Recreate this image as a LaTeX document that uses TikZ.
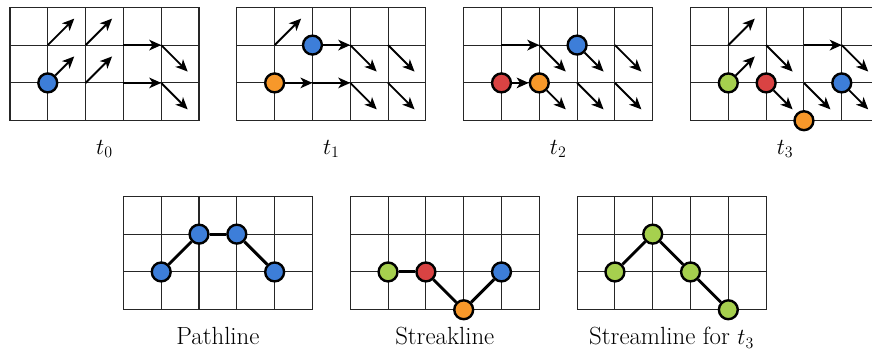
\documentclass[tikz,border=0pt]{standalone}
\usetikzlibrary{arrows.meta}
\definecolor{cblue}{HTML}{3D7ED9}
\definecolor{corange}{HTML}{F7982A}
\definecolor{cred}{HTML}{D94343}
\definecolor{cgreen}{HTML}{A6D04E}
\begin{document}
\begin{tikzpicture}[x=1cm,y=1cm,
  gridline/.style={line width=0.8pt, draw=black!85},
  vec/.style={line width=1.4pt, -{Stealth[length=9pt,width=8pt,inset=2.5pt]}},
  link/.style={line width=2.2pt},
  particle/.style={circle, draw=black, line width=1.8pt, minimum size=0.5cm, inner sep=0pt},
  pblue/.style={particle, fill=cblue},
  porange/.style={particle, fill=corange},
  pred/.style={particle, fill=cred},
  pgreen/.style={particle, fill=cgreen},
  lbl/.style={font=\fontsize{18.7}{22}\selectfont, anchor=base, inner sep=0pt}
]
\useasboundingbox (-0.264,-6.172) rectangle (22.80,3.193);
\clip (-0.264,-6.172) rectangle (22.80,3.193);

% grids, with named vertices P<i><j> for every panel P
\foreach \p/\dx/\dy in {A/0/0, B/6/0, C/12/0, D/18/0, E/3/-5, F/9/-5, G/15/-5} {
  \begin{scope}[shift={(\dx,\dy)}]
    \draw[gridline] (0,0) grid (5,3);
    \foreach \i in {0,...,5} {
      \foreach \j in {0,...,3} {
        \coordinate (\p\i\j) at (\i,\j);
      }
    }
  \end{scope}
}

% ---- t0 ----
\node[pblue] (a-blue) at (A11) {};
\draw[vec] (A12) -- ++(0.7,0.7);
\draw[vec] (A22) -- ++(0.7,0.7);
\draw[vec] (a-blue) -- (1.7,1.7);
\draw[vec] (A21) -- ++(0.7,0.7);
\draw[vec] (A32) -- (A42);
\draw[vec] (A42) -- ++(0.7,-0.7);
\draw[vec] (A31) -- (A41);
\draw[vec] (A41) -- ++(0.7,-0.7);
\node[lbl] (lab-a) at (2.5,-0.89) {$t_0$};

% ---- t1 ----
\node[pblue] (b-blue) at (B22) {};
\node[porange] (b-orange) at (B11) {};
\draw[vec] (B12) -- ++(0.7,0.7);
\draw[vec] (b-blue) -- (B32);
\draw[vec] (B32) -- ++(0.7,-0.7);
\draw[vec] (B42) -- ++(0.7,-0.7);
\draw[vec] (b-orange) -- (B21);
\draw[vec] (B21) -- (B31);
\draw[vec] (B31) -- ++(0.7,-0.7);
\draw[vec] (B41) -- ++(0.7,-0.7);
\node[lbl] (lab-b) at (8.5,-0.89) {$t_1$};

% ---- t2 ----
\node[pblue] (c-blue) at (C32) {};
\node[pred] (c-red) at (C11) {};
\node[porange] (c-orange) at (C21) {};
\draw[vec] (C12) -- (C22);
\draw[vec] (C22) -- ++(0.7,-0.7);
\draw[vec] (c-blue) -- (15.7,1.3);
\draw[vec] (C42) -- ++(0.7,-0.7);
\draw[vec] (c-red) -- (c-orange);
\draw[vec] (c-orange) -- (14.7,0.3);
\draw[vec] (C31) -- ++(0.7,-0.7);
\draw[vec] (C41) -- ++(0.7,-0.7);
\node[lbl] (lab-c) at (14.5,-0.89) {$t_2$};

% ---- t3 ----
\node[pgreen] (d-green) at (D11) {};
\node[pred] (d-red) at (D21) {};
\node[porange] (d-orange) at (D30) {};
\node[pblue] (d-blue) at (D41) {};
\draw[vec] (D12) -- ++(0.7,0.7);
\draw[vec] (d-green) -- (19.7,1.7);
\draw[vec] (D22) -- ++(0.7,-0.7);
\draw[vec] (d-red) -- (20.7,0.3);
\draw[vec] (D32) -- (D42);
\draw[vec] (D42) -- ++(0.7,-0.7);
\draw[vec] (D31) -- ++(0.7,-0.7);
\draw[vec] (d-blue) -- (22.7,0.3);
\node[lbl] (lab-d) at (20.5,-0.89) {$t_3$};

% ---- pathline ----
\node[pblue] (e1) at (E11) {};
\node[pblue] (e2) at (E22) {};
\node[pblue] (e3) at (E32) {};
\node[pblue] (e4) at (E41) {};
\draw[link] (e1) -- (e2);
\draw[link] (e2) -- (e3);
\draw[link] (e3) -- (e4);
\node[lbl] (lab-e) at (5.5,-5.93) {Pathline};

% ---- streakline ----
\node[pgreen] (f1) at (F11) {};
\node[pred] (f2) at (F21) {};
\node[porange] (f3) at (F30) {};
\node[pblue] (f4) at (F41) {};
\draw[link] (f1) -- (f2);
\draw[link] (f2) -- (f3);
\draw[link] (f3) -- (f4);
\node[lbl] (lab-f) at (11.5,-5.93) {Streakline};

% ---- streamline ----
\node[pgreen] (g1) at (G11) {};
\node[pgreen] (g2) at (G22) {};
\node[pgreen] (g3) at (G31) {};
\node[pgreen] (g4) at (G40) {};
\draw[link] (g1) -- (g2);
\draw[link] (g2) -- (g3);
\draw[link] (g3) -- (g4);
\node[lbl] (lab-g) at (17.5,-5.93) {Streamline for $t_3$};
\end{tikzpicture}
\end{document}
